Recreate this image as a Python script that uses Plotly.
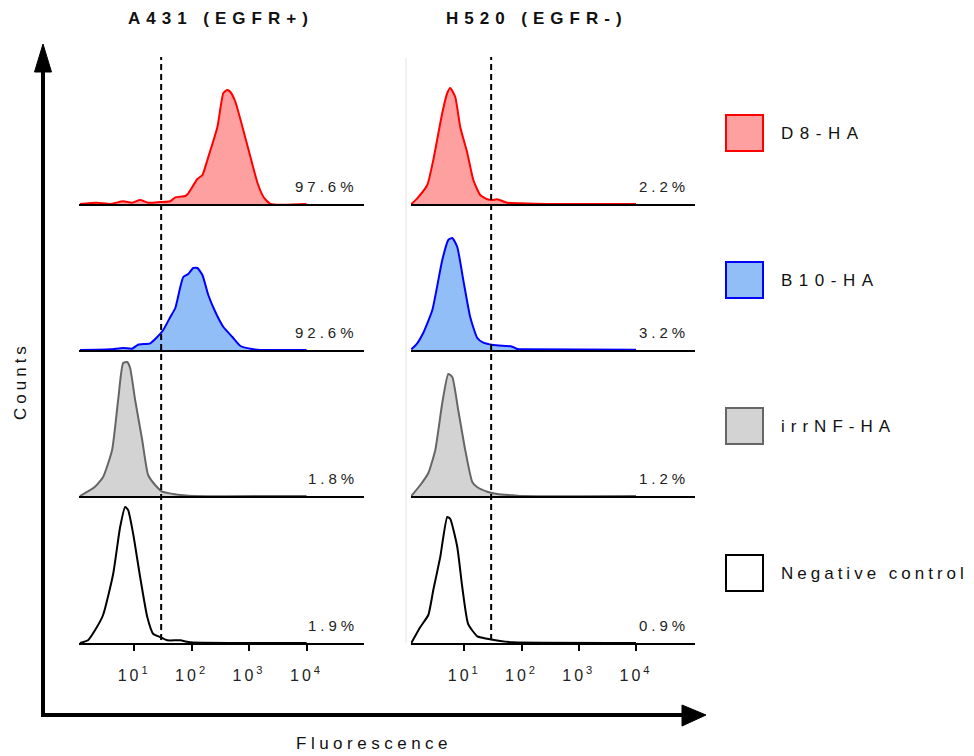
import plotly.graph_objects as go

W, H = 974, 756

# ---------------- data ----------------
cell_lines = ["A431 (EGFR+)", "H520 (EGFR-)"]
series_names = ["D8-HA", "B10-HA", "irrNF-HA", "Negative control"]
line_colors = ["#FF0000", "#0000FF", "#666666", "#000000"]
fill_colors = ["#FFA0A0", "#92BEF8", "#D3D3D3", None]
pct_labels = [["97.6%", "92.6%", "1.8%", "1.9%"],
              ["2.2%", "3.2%", "1.2%", "0.9%"]]
gate_fluorescence = 29.5
tick_vals = [10, 100, 1000, 10000]
tick_text = ["10<sup>1</sup>", "10<sup>2</sup>", "10<sup>3</sup>", "10<sup>4</sup>"]
x_label = "Fluorescence"
y_label = "Counts"

# A431 (EGFR+)
a431_d8_fl = [1.14, 2.23, 3.81, 6.43, 9.23, 12.7, 17.5, 28.4, 42.5, 52.0, 77.6, 87.5, 126, 154, 188,
              281, 357, 420, 473, 579, 767, 1057, 1403, 1782, 2360, 10000]
a431_d8_ct = [0, 1.3, 0, 2.7, 1.3, 4, 1.3, 2, 2.7, 6.7, 8, 10.7, 25, 29, 44,
              77, 111, 114, 112, 102, 77, 47, 21, 7, 0, 0]
a431_b10_fl = [1.14, 3.81, 6.43, 9.23, 11.7, 19.0, 25.2, 32.1, 42.5, 52.0, 63.5, 71.6, 87.5, 107,
               126, 154, 195, 259, 357, 513, 708, 1194, 1581, 10000]
a431_b10_ct = [0, 0.7, 2, 1.3, 5.3, 6.7, 13, 20, 33, 42, 63, 73, 76, 82,
               82, 75, 55, 38, 23, 13, 4, 0.7, 0, 0]
a431_irr_fl = [1.14, 2.08, 2.88, 4.13, 5.26, 6.43, 7.55, 8.51, 10.4, 13.8, 17.5, 23.2, 30.8, 48.0,
               71.6, 107, 10000]
a431_irr_ct = [0, 9.3, 19, 46, 96, 133, 134, 128, 96, 56, 21, 11, 4.3, 2, 0.7, 0, 0]
a431_neg_fl = [1.14, 1.57, 2.08, 2.88, 4.31, 5.70, 6.97, 7.85, 9.62, 12.7, 16.9, 21.5, 28.4, 37.7,
               63.5, 94.8, 10000]
a431_neg_ct = [0, 2.7, 12.7, 28, 69, 116, 136, 133, 109, 66, 26, 9, 6, 2.7, 2.7, 0.7, 0]

# H520 (EGFR-)
h520_d8_fl = [1.19, 1.51, 2.26, 2.88, 4.13, 5.05, 5.70, 6.97, 8.51, 11.3, 14.4, 19.0, 25.2, 30.8,
              37.7, 56.2, 94.8, 281, 10000]
h520_d8_ct = [0, 5.7, 19, 44, 91, 111, 116, 107, 77, 51, 24, 9, 4.7, 4, 4.7, 1.3, 0.7, 0, 0]
h520_b10_fl = [1.19, 1.51, 1.92, 2.77, 4.13, 5.26, 6.18, 7.55, 9.62, 12.7, 16.9, 21.5, 32.1, 56.2,
               68.9, 84.1, 126, 10000]
h520_b10_ct = [0.7, 6.7, 17, 40, 90, 110, 112, 103, 70, 33, 12, 7.3, 5, 4, 3.3, 1, 0.7, 0.3]
h520_irr_fl = [1.19, 1.71, 2.36, 3.12, 4.13, 5.26, 6.18, 7.85, 10.4, 13.8, 16.9, 25.2, 37.7, 71.6,
               107, 10000]
h520_irr_ct = [0, 11, 23, 46, 93, 122, 119, 86, 46, 14, 8.7, 4.3, 2, 0.7, 0, 0]
h520_neg_fl = [1.19, 1.71, 2.36, 2.88, 3.81, 5.05, 5.70, 7.55, 9.23, 11.7, 16.9, 25.2, 42.5, 71.6,
               10000]
h520_neg_ct = [0, 16, 28, 53, 86, 126, 124, 96, 56, 19, 6.7, 4.3, 2, 0.7, 0]

panels = [
    [(a431_d8_fl, a431_d8_ct), (a431_b10_fl, a431_b10_ct), (a431_irr_fl, a431_irr_ct), (a431_neg_fl, a431_neg_ct)],
    [(h520_d8_fl, h520_d8_ct), (h520_b10_fl, h520_b10_ct), (h520_irr_fl, h520_irr_ct), (h520_neg_fl, h520_neg_ct)],
]

# ---------------- layout helpers ----------------
FONT = "Liberation Sans, Arial, Helvetica, sans-serif"


def fx(x):
    return x / W


def fy(y):
    return 1 - y / H


col_px = [(79, 364), (411, 695)]
col_range = [[0.04, 5.0], [0.07, 5.03]]
row_px = [(58, 204), (204, 350), (350, 496), (497, 643)]
count_range = [0, 146]
pct_x = [0.985, 0.985]

fig = go.Figure()
layout = dict(
    width=W, height=H,
    margin=dict(l=0, r=0, t=0, b=0),
    paper_bgcolor="white", plot_bgcolor="rgba(0,0,0,0)",
    showlegend=False,
    font=dict(family=FONT, color="#222222"),
)
annotations = []
shapes = []

for c in range(2):
    for r in range(4):
        i = c * 4 + r + 1
        xs = "" if i == 1 else str(i)
        fl, ct = panels[c][r]
        trace = dict(
            x=fl, y=ct, mode="lines", name=series_names[r],
            xaxis="x" + xs, yaxis="y" + xs,
            line=dict(color=line_colors[r], width=2, shape="spline", smoothing=0.5),
            hoverinfo="skip",
        )
        if fill_colors[r]:
            trace["fill"] = "tozeroy"
            trace["fillcolor"] = fill_colors[r]
        fig.add_trace(go.Scatter(**trace))

        bottom = r == 3
        layout["xaxis" + xs] = dict(
            type="log", range=col_range[c],
            domain=[fx(col_px[c][0]), fx(col_px[c][1])],
            anchor="y" + xs,
            showline=True, linecolor="black", linewidth=2,
            layer="below traces",
            showgrid=False, zeroline=False,
            ticks="outside" if bottom else "",
            ticklen=6, tickwidth=2, tickcolor="black",
            tickvals=tick_vals, ticktext=tick_text,
            showticklabels=bottom,
            tickfont=dict(size=16, color="#222222", family=FONT),
            ticklabelstandoff=11,
        )
        layout["yaxis" + xs] = dict(
            range=count_range, visible=False,
            domain=[fy(row_px[r][1]), fy(row_px[r][0])],
            anchor="x" + xs, fixedrange=True,
        )
        annotations.append(dict(
            text=pct_labels[c][r], xref="x" + xs + " domain", yref="y" + xs,
            x=pct_x[c], y=17.5, xanchor="right", yanchor="middle", align="right",
            showarrow=False, font=dict(size=15, color="#222222"),
        ))

    # gate line
    xs = "" if c == 0 else "5"
    shapes.append(dict(
        type="line", xref="x" + xs, yref="paper",
        x0=gate_fluorescence, x1=gate_fluorescence, y0=fy(640), y1=fy(57),
        line=dict(color="black", width=2, dash="6px,4px"), layer="above",
    ))
    # column title
    annotations.append(dict(
        text=cell_lines[c], xref="paper", yref="paper",
        x=fx([221, 537][c]), y=fy(18), xanchor="center", yanchor="middle",
        showarrow=False, font=dict(size=17, color="#111111", weight="bold"),
    ))

# faint left border of right column
shapes.append(dict(type="line", xref="paper", yref="paper",
                   x0=fx(406), x1=fx(406), y0=fy(643), y1=fy(58),
                   line=dict(color="#e4e4e4", width=1), layer="below"))

# big axis arrows
shapes.append(dict(type="line", xref="paper", yref="paper",
                   x0=fx(43), x1=fx(43), y0=fy(717), y1=fy(66),
                   line=dict(color="black", width=4)))
shapes.append(dict(type="path", xref="paper", yref="paper",
                   path=f"M {fx(43)},{fy(44)} L {fx(34.5)},{fy(72)} L {fx(51.5)},{fy(72)} Z",
                   fillcolor="black", line=dict(color="black", width=1)))
shapes.append(dict(type="line", xref="paper", yref="paper",
                   x0=fx(41), x1=fx(686), y0=fy(715), y1=fy(715),
                   line=dict(color="black", width=4)))
shapes.append(dict(type="path", xref="paper", yref="paper",
                   path=f"M {fx(706)},{fy(715)} L {fx(682)},{fy(705)} L {fx(682)},{fy(726)} Z",
                   fillcolor="black", line=dict(color="black", width=1)))

annotations.append(dict(text=y_label, xref="paper", yref="paper", x=fx(20), y=fy(381),
                        textangle=-90, showarrow=False, xanchor="center", yanchor="middle",
                        font=dict(size=17, color="#111111")))
annotations.append(dict(text=x_label, xref="paper", yref="paper", x=fx(374), y=fy(743),
                        showarrow=False, xanchor="center", yanchor="middle",
                        font=dict(size=17, color="#111111")))

# legend (boxes + labels)
legend_cy = [133, 280, 426, 573]
for k, name in enumerate(series_names):
    cy = legend_cy[k]
    shapes.append(dict(type="rect", xref="paper", yref="paper",
                       x0=fx(726), x1=fx(763), y0=fy(cy + 18), y1=fy(cy - 18),
                       fillcolor=fill_colors[k] or "white",
                       line=dict(color=line_colors[k], width=2)))
    annotations.append(dict(text=name, xref="paper", yref="paper", x=fx(779), y=fy(cy),
                            xanchor="left", yanchor="middle", align="left", showarrow=False,
                            font=dict(size=17, color="#111111")))

layout["annotations"] = annotations
layout["shapes"] = shapes
fig.update_layout(**layout)

post_script = """
document.body.style.margin = '0';
document.body.style.padding = '0';
var sp = {"A431 (EGFR+)": "6px", "H520 (EGFR-)": "6px", "Counts": "4px", "Fluorescence": "4.5px",
          "D8-HA": "6.5px", "B10-HA": "6.5px", "irrNF-HA": "6px", "Negative control": "4px"};
document.querySelectorAll('.annotation-text').forEach(function(t){
  var k = t.textContent;
  t.style.letterSpacing = (k in sp) ? sp[k] : '4px';
});
document.querySelectorAll('g[class$="tick"] > text').forEach(function(t){ t.style.letterSpacing = '3px'; });
"""

fig.write_html("out.html", post_script=post_script, config={"displayModeBar": False})
